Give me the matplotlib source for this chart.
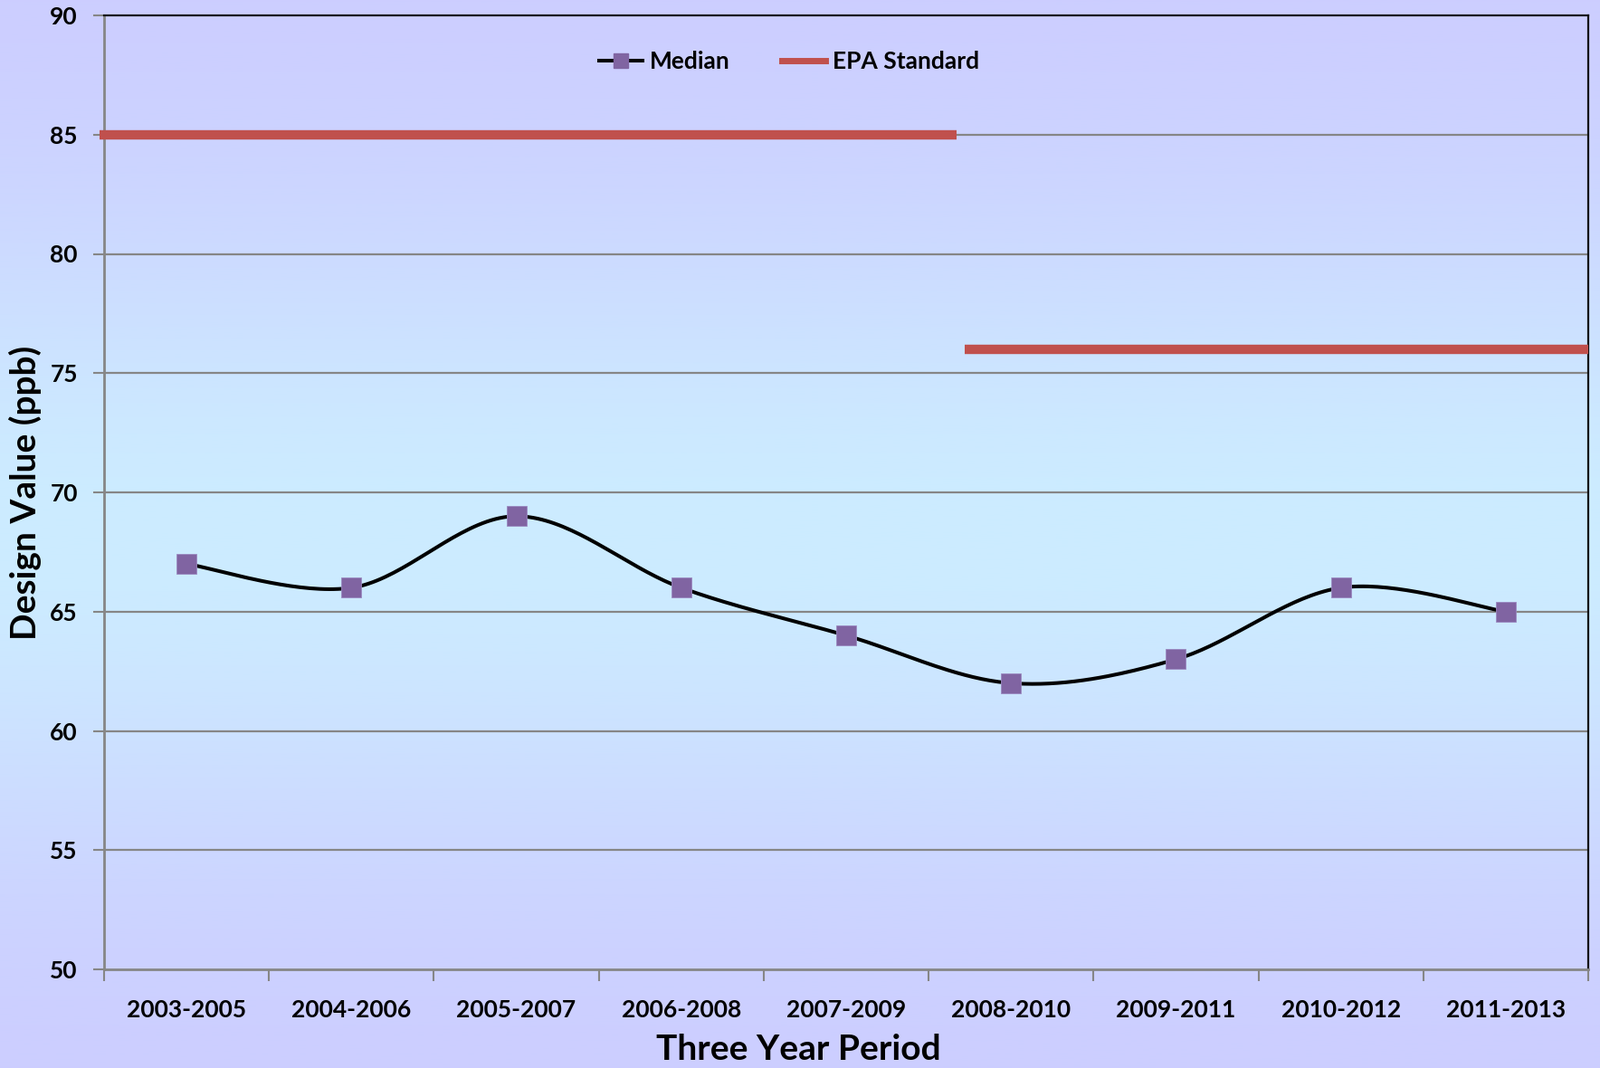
import numpy as np
import matplotlib
matplotlib.use("Agg")
import matplotlib.pyplot as plt
from matplotlib.lines import Line2D

# ---- data ----
periods = ["2003-2005", "2004-2006", "2005-2007", "2006-2008", "2007-2009",
           "2008-2010", "2009-2011", "2010-2012", "2011-2013"]
median = [67, 66, 69, 66, 64, 62, 63, 66, 65]
epa_values = [85, 76]
epa_start = [-0.53, 4.72]   # category-axis units
epa_end = [4.67, 8.5]
yticks = [50, 55, 60, 65, 70, 75, 80, 85, 90]

plt.rcParams['font.family'] = ['Lato', 'DejaVu Sans']
plt.rcParams['font.weight'] = 'bold'

W, H, DPI = 1768, 1180, 100
fig = plt.figure(figsize=(W / DPI, H / DPI), dpi=DPI)

# background gradient (vertical)
bg = fig.add_axes([0, 0, 1, 1], zorder=-10)
bg.set_axis_off()
t = np.linspace(0, 1, 400)
lav = np.array([204, 204, 255]) / 255
blu = np.array([204, 236, 255]) / 255
w = np.exp(-((t - 0.50) / 0.30) ** 2)
grad = lav[None, :] * (1 - w[:, None]) + blu[None, :] * w[:, None]
bg.imshow(grad[:, None, :], aspect='auto', extent=[0, 1, 0, 1], origin='upper')
bg.set_xlim(0, 1)
bg.set_ylim(0, 1)

left, right = 115 / W, 1755 / W
bottom, top = (H - 1071) / H, (H - 17) / H
ax = fig.add_axes([left, bottom, right - left, top - bottom])
ax.patch.set_alpha(0)

x = np.arange(len(periods))
y = np.array(median, dtype=float)

# Catmull-Rom (Excel-like smoothed line)
px = np.concatenate([[x[0]], x, [x[-1]]]).astype(float)
py = np.concatenate([[y[0]], y, [y[-1]]])
sx, sy = [], []
for i in range(1, len(px) - 2):
    p0, p1, p2, p3 = (np.array([px[j], py[j]]) for j in (i - 1, i, i + 1, i + 2))
    c1 = p1 + (p2 - p0) / 6
    c2 = p2 - (p3 - p1) / 6
    tt = np.linspace(0, 1, 40)[:, None]
    b = ((1 - tt) ** 3) * p1 + 3 * ((1 - tt) ** 2) * tt * c1 + 3 * (1 - tt) * tt ** 2 * c2 + tt ** 3 * p2
    sx.extend(b[:, 0]); sy.extend(b[:, 1])

ax.plot(sx, sy, color='black', lw=2.9, zorder=4, solid_capstyle='round')
ax.plot(x, y, linestyle='none', marker='s', ms=15.5, mfc='#8064A2',
        mec='#9a88c0', mew=0.6, zorder=5)

for v, s, e in zip(epa_values, epa_start, epa_end):
    ax.plot([s, e], [v, v], color='#C0504D', lw=7.5, solid_capstyle='butt',
            zorder=3, clip_on=False)

ax.set_xlim(-0.5, len(periods) - 0.5)
ax.set_ylim(50, 90)
ax.set_yticks(yticks)
ax.set_yticklabels([str(v) for v in yticks])
ax.set_xticks(np.arange(len(periods) + 1) - 0.5)
ax.set_xticklabels([])
ax.set_xticks(x, minor=True)
ax.set_xticklabels(periods, minor=True)
ax.tick_params(axis='x', which='minor', length=0, pad=24, labelsize=19)
ax.tick_params(axis='x', which='major', length=9, width=1.5, color='#868686', direction='out')
ax.tick_params(axis='y', length=9, width=1.5, color='#868686', direction='out',
               pad=12, labelsize=19)

for yy in yticks[1:-1]:
    ax.axhline(yy, color='#868686', lw=1.6, zorder=1)

for sp in ('left', 'bottom'):
    ax.spines[sp].set_color('#868686')
    ax.spines[sp].set_linewidth(2)
for sp in ('top', 'right'):
    ax.spines[sp].set_color('#111111')
    ax.spines[sp].set_linewidth(1.6)

ax.set_ylabel('Design Value (ppb)', fontsize=28, fontweight='bold', va='center')
ax.yaxis.set_label_coords(-0.053, 0.5)
ax.set_xlabel('Three Year Period', fontsize=28, fontweight='bold', va='center')
ax.xaxis.set_label_coords(0.4677, -0.0835)

handles = [
    Line2D([], [], color='black', lw=2.9, marker='s', ms=11, mfc='#8064A2', mec='#8064A2'),
    Line2D([], [], color='#C0504D', lw=5),
]
leg = ax.legend(handles, ['Median', 'EPA Standard'], loc='center',
                bbox_to_anchor=(0.4616, 0.9516), ncol=2, frameon=False,
                fontsize=19, handlelength=1.8, handletextpad=0.3,
                columnspacing=2.2, numpoints=1)

fig.savefig('out.png', dpi=DPI)
